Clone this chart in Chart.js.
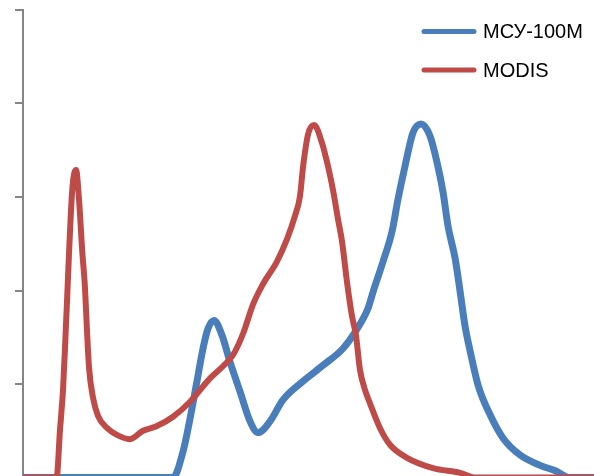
<!DOCTYPE html>
<html>
<head>
<meta charset="utf-8">
<script src="https://cdn.jsdelivr.net/npm/chart.js@4"></script>
<style>
  html, body { margin: 0; padding: 0; background: #fff; overflow: hidden; }
  #wrap { width: 594px; height: 476px; overflow: hidden; }
</style>
</head>
<body>
<div id="wrap"><canvas id="histChart" width="594" height="484"></canvas></div>
<script>
// series labels
const seriesNames = ["МСУ-100М", "MODIS"];

// MODIS histogram (x = brightness, y = frequency, %)
const modisX = [0, 15, 16.5, 17.9, 18.8, 19.7, 20.5, 21.4, 22.3, 23.7, 25.0, 26.4, 27.7, 28.6, 29.5, 31.3, 33.5, 37.5, 43.3, 47.8, 53.6, 59.8, 67.0, 74.6, 83.5, 89.3, 93.8, 98.3, 102.7, 107.2, 113.4, 117.9, 121.5, 123.7, 125.1, 127.3, 130.0, 133.5, 136.2, 138.4, 140.7, 142.5, 144.7, 146.9, 148.7, 150.5, 152.7, 155.0, 159.4, 163.9, 171.5, 183.1, 195.2, 202, 255];
const modisY = [0, 0, 0.50, 0.95, 1.41, 1.91, 2.37, 2.84, 3.16, 3.29, 2.98, 2.44, 2.02, 1.56, 1.17, 0.85, 0.66, 0.53, 0.44, 0.41, 0.50, 0.55, 0.65, 0.81, 1.06, 1.19, 1.31, 1.54, 1.85, 2.07, 2.31, 2.55, 2.80, 3.01, 3.33, 3.67, 3.77, 3.58, 3.33, 3.08, 2.76, 2.52, 2.09, 1.73, 1.52, 1.15, 0.94, 0.79, 0.53, 0.35, 0.21, 0.10, 0.05, 0, 0];

// МСУ-100М histogram
const msuX = [0, 67.0, 71.5, 74.6, 77.7, 80.4, 82.6, 85.3, 88.9, 92.4, 96.9, 101.4, 104.9, 110.3, 116.1, 125.1, 134.0, 142.9, 149.2, 154.1, 156.4, 160.8, 164.8, 167.5, 170.6, 174.2, 177.8, 181.8, 184.9, 187.6, 189.8, 193.0, 195.2, 197.4, 199.7, 203.2, 208.6, 214.4, 222.0, 230.9, 238.0, 244, 255];
const msuY = [0, 0, 0.28, 0.63, 1.03, 1.38, 1.59, 1.68, 1.52, 1.24, 0.92, 0.60, 0.48, 0.60, 0.83, 1.03, 1.20, 1.38, 1.59, 1.81, 1.99, 2.31, 2.63, 2.98, 3.33, 3.69, 3.78, 3.65, 3.37, 3.05, 2.69, 2.34, 1.99, 1.62, 1.35, 0.99, 0.67, 0.42, 0.24, 0.13, 0.07, 0, 0];

// y axis tick values
const yTicks = [0, 1, 2, 3, 4, 5];

const toPoints = (xs, ys) => xs.map((x, i) => ({ x: x, y: ys[i] }));

const BLUE = "#4a7ebb";
const RED = "#be4b48";

// simple legend drawn at top right, one line per row
const lineLegend = {
  id: "lineLegend",
  afterDraw(chart) {
    const ctx = chart.ctx;
    const rows = [
      { label: seriesNames[0], color: BLUE },
      { label: seriesNames[1], color: RED }
    ];
    ctx.save();
    ctx.font = '20px "Liberation Sans", Arial, sans-serif';
    ctx.textBaseline = "middle";
    rows.forEach((r, i) => {
      const y = 31.5 + i * 38.5;
      ctx.strokeStyle = r.color;
      ctx.lineWidth = 5;
      ctx.lineCap = "round";
      ctx.beginPath();
      ctx.moveTo(424, y);
      ctx.lineTo(474, y);
      ctx.stroke();
      ctx.fillStyle = "#000";
      ctx.fillText(r.label, 483, y + 1);
    });
    ctx.restore();
  }
};

const common = {
  pointRadius: 0,
  borderCapStyle: "round",
  borderJoinStyle: "round",
  cubicInterpolationMode: "monotone",
  fill: false
};

new Chart(document.getElementById("histChart").getContext("2d"), {
  type: "line",
  data: {
    datasets: [
      Object.assign({ label: seriesNames[1], data: toPoints(modisX, modisY), borderColor: RED, backgroundColor: RED, borderWidth: 6 }, common),
      Object.assign({ label: seriesNames[0], data: toPoints(msuX, msuY), borderColor: BLUE, backgroundColor: BLUE, borderWidth: 7 }, common)
    ]
  },
  options: {
    responsive: false,
    animation: false,
    devicePixelRatio: 1,
    layout: { padding: { left: 15, top: 10, right: 0, bottom: 6.5 } },
    plugins: { legend: { display: false }, tooltip: { enabled: false } },
    scales: {
      x: { type: "linear", min: 0, max: 255, display: false },
      y: {
        min: yTicks[0],
        max: yTicks[yTicks.length - 1],
        afterBuildTicks: (scale) => { scale.ticks = yTicks.map(v => ({ value: v })); },
        ticks: { display: false },
        grid: { drawOnChartArea: false, drawTicks: true, tickLength: 8, color: "#868686", lineWidth: 2 },
        border: { display: true, color: "#868686", width: 2 }
      }
    }
  },
  plugins: [lineLegend]
});
</script>
</body>
</html>
